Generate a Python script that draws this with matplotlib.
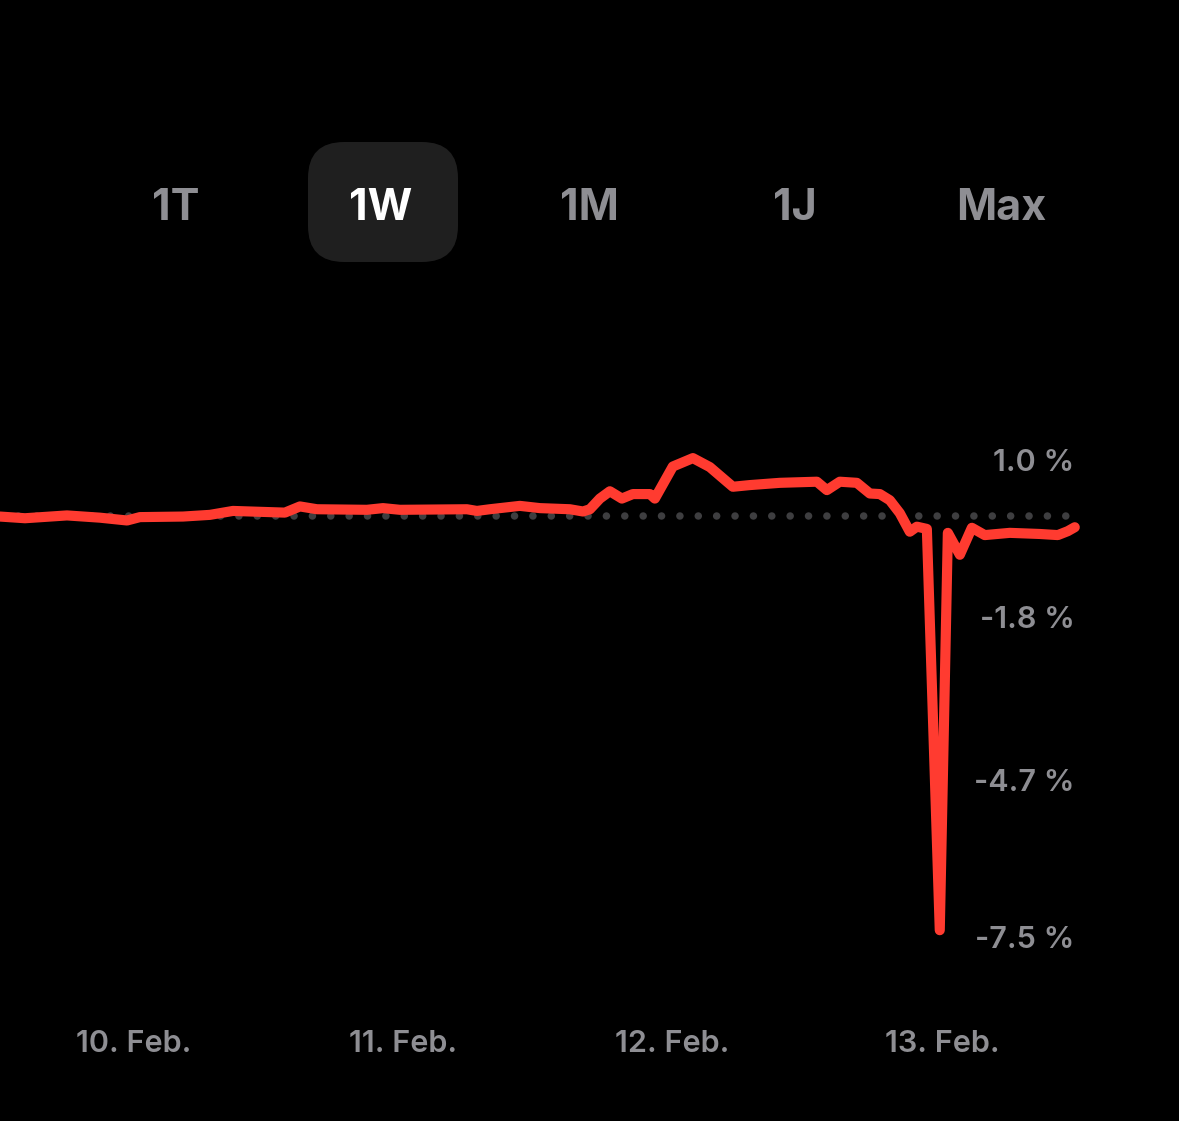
import matplotlib.pyplot as plt
from matplotlib.patches import FancyBboxPatch
from matplotlib.transforms import IdentityTransform, blended_transform_factory

# hours since 10. Feb. 00:00 and percent change
hours = [-11.94, -9.71, -5.97, -3.03, -0.62, 0.53, 4.37, 6.77, 8.82, 13.45,
         14.79, 16.31, 20.76, 22.19, 23.70, 29.67, 30.56, 31.72, 34.39, 36.17,
         38.85, 40.01, 40.63, 41.52, 42.41, 43.48, 44.46, 45.98, 46.42, 48.02,
         49.81, 51.32, 52.84, 53.37, 54.89, 57.56, 60.86, 61.75, 62.90, 64.42,
         65.58, 66.47, 67.36, 68.25, 69.14, 69.77, 70.66, 71.81, 72.53, 73.60,
         74.67, 75.82, 78.05, 80.72, 82.33, 83.22, 83.84]
change = [-0.01, -0.04, 0.01, -0.03, -0.08, -0.02, -0.01, 0.02, 0.09, 0.06,
          0.17, 0.12, 0.11, 0.14, 0.11, 0.12, 0.09, 0.12, 0.18, 0.14,
          0.12, 0.08, 0.12, 0.31, 0.44, 0.31, 0.39, 0.39, 0.31, 0.88,
          1.03, 0.87, 0.61, 0.52, 0.55, 0.59, 0.61, 0.46, 0.61, 0.59,
          0.40, 0.39, 0.28, 0.05, -0.28, -0.19, -0.23, -7.37, -0.30, -0.69,
          -0.21, -0.34, -0.30, -0.32, -0.34, -0.27, -0.20]

ytick_vals = [1.0, -1.8, -4.7, -7.5]
ytick_labels = ['1.0 %', '-1.8 %', '-4.7 %', '-7.5 %']
xtick_vals = [0, 24, 48, 72]
xtick_labels = ['10. Feb.', '11. Feb.', '12. Feb.', '13. Feb.']
ranges = ['1T', '1W', '1M', '1J', 'Max']
selected = '1W'

plt.rcParams['font.family'] = ['Inter', 'DejaVu Sans']
grey = '#8e8e93'
red = '#ff3b30'

fig = plt.figure(figsize=(11.79, 11.21), dpi=100, facecolor='black')
ax = fig.add_axes([0, 0, 1, 1], facecolor='black')
ax.set_xlim(-11.94, 93.13)
ax.set_ylim(-10.765, 9.181)
ax.axis('off')

# zero line (dotted)
ax.axhline(0, xmin=0, xmax=0.905, color='#3e3e40', lw=5.4,
           linestyle=(0, (0.01, 2.44)), dash_capstyle='round', zorder=1)

ax.plot(hours, change, color=red, lw=7.3, solid_joinstyle='round',
        solid_capstyle='round', zorder=2)

ty = blended_transform_factory(ax.transAxes, ax.transData)
for v, lab in zip(ytick_vals, ytick_labels):
    ax.text(0.9115, v - 0.05, lab, transform=ty, ha='right', va='center',
            color=grey, fontsize=22, fontweight='semibold')

tx = blended_transform_factory(ax.transData, ax.transAxes)
for v, lab in zip(xtick_vals, xtick_labels):
    ax.text(v, 0.069, lab, transform=tx, ha='center', va='center',
            color=grey, fontsize=22, fontweight='semibold')

# range selector
box = FancyBboxPatch((308, 1121 - 262), 150, 120,
                     boxstyle='round,pad=0,rounding_size=36',
                     transform=IdentityTransform(), facecolor='#1f1f1f',
                     edgecolor='none')
fig.patches.append(box)
btn_x = [176, 381, 589, 795, 1001]
for bx, r in zip(btn_x, ranges):
    fig.text(bx / 1179, 1 - 209 / 1121, r, ha='center', va='center',
             color='white' if r == selected else grey,
             fontsize=31, fontweight='bold')

fig.savefig('out.png', dpi=100, facecolor='black')
